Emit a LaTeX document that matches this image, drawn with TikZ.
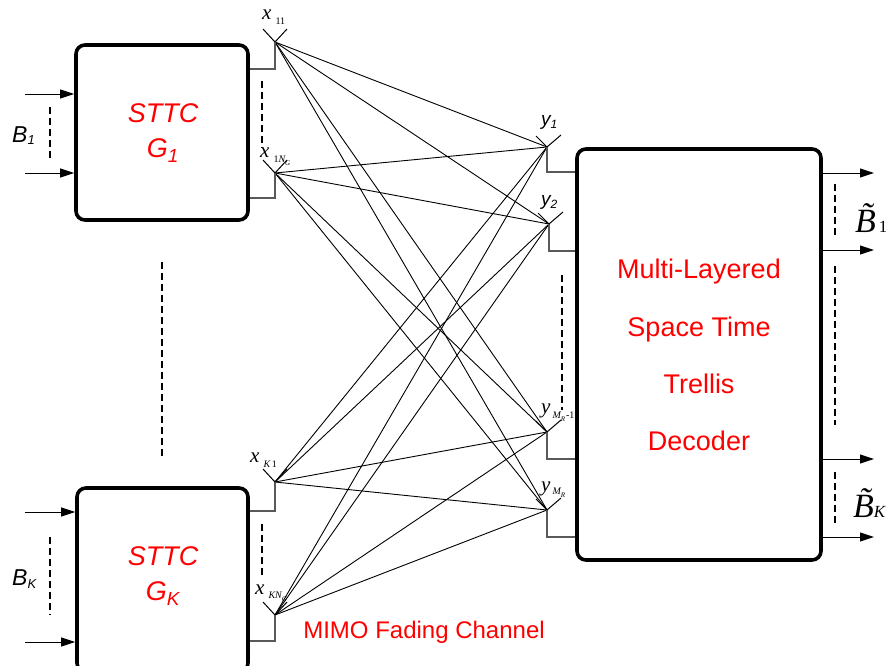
\documentclass[tikz,border=0pt]{standalone}
\usepackage{fontspec}
\setmainfont{Liberation Serif}
\setsansfont{Liberation Sans}
\usetikzlibrary{arrows.meta}
\begin{document}
\begin{tikzpicture}[x=1pt,y=-1pt,
  blk/.style={draw, line width=3.6pt, rounded corners=9pt, inner sep=0pt},
  feed/.style={draw=black!65, line width=1.3pt},
  chan/.style={line width=0.9pt},
  arm/.style={line width=1pt},
  dsh/.style={line width=2pt, dash pattern=on 7pt off 4pt},
  inarr/.style={line width=1pt, -{Triangle[length=14pt,width=9pt]}},
  redt/.style={text=red, align=center, inner sep=0pt},
  lbl/.style={anchor=base west, inner sep=0pt},
  xlab/.style={lbl, font=\rmfamily\itshape\fontsize{21}{21}\selectfont},
  ylab/.style={lbl, font=\sffamily\itshape\fontsize{19}{19}\selectfont},
  blab/.style={lbl, font=\sffamily\itshape\fontsize{23}{23}\selectfont},
  btlab/.style={lbl, font=\rmfamily\itshape\fontsize{34}{34}\selectfont},
]
\useasboundingbox (0,0) rectangle (886,665);
\begin{scope}
\clip (0,0) rectangle (886,665);

% antenna vertices
\coordinate (t1) at (275,42);
\coordinate (t2) at (275,173);
\coordinate (t3) at (275,482);
\coordinate (t4) at (275,615);
\coordinate (r1) at (547,147);
\coordinate (r2) at (549,224);
\coordinate (r3) at (547,432);
\coordinate (r4) at (547,510);

% channel links
\foreach \t in {t1,t2,t3,t4}
  \foreach \r in {r1,r2,r3,r4}
    \draw[chan] (\t) -- (\r);

% boxes
\node[blk, minimum width=172, minimum height=175] (enc1) at (162,132.5) {};
\node[blk, minimum width=171, minimum height=184] (enc2) at (162.5,580) {};
\node[blk, minimum width=244, minimum height=411] (dec) at (699,354.5) {};

% box texts
\node[redt, font=\sffamily\itshape\fontsize{27}{35}\selectfont] (enc1t) at (163,133) {STTC\\G\textsubscript{1}};
\node[redt, font=\sffamily\itshape\fontsize{27}{35}\selectfont] (enc2t) at (163,576) {STTC\\G\textsubscript{K}};
\node[redt, font=\sffamily\fontsize{27}{57.3}\selectfont] (dect) at (699,355) {Multi-Layered\\Space Time\\Trellis\\Decoder};
\node[redt, font=\sffamily\fontsize{24}{24}\selectfont] (mimo) at (424,632) {MIMO Fading Channel};

% feed coordinates on box edges
\coordinate (f1) at (250,69);
\coordinate (f2) at (250,198);
\coordinate (f3) at (250,511);
\coordinate (f4) at (250,641);
\coordinate (g1) at (575,172);
\coordinate (g2) at (575,251);
\coordinate (g3) at (575,459);
\coordinate (g4) at (575,537);
\foreach \a/\b in {t1/f1,t2/f2,t3/f3,t4/f4,r1/g1,r2/g2,r3/g3,r4/g4}
  \draw[feed] (\a) |- (\b);

% antenna arms
\foreach \a in {t1,t2,t3,t4}
  \draw[arm] (\a) -- ++(-12,-13) (\a) -- ++(12,-13);
\foreach \a in {r1,r2,r3,r4}
  \draw[arm] (\a) -- ++(-11,-11) (\a) -- ++(14,-12);

% input / output arrows
\coordinate (i1) at (25,94);
\coordinate (i2) at (25,173);
\coordinate (i3) at (25,512);
\coordinate (i4) at (25,642);
\foreach \c/\n in {i1/enc1,i2/enc1,i3/enc2,i4/enc2}
  \draw[inarr] (\c) -- (\n.west |- \c);
\coordinate (o1) at (874,173);
\coordinate (o2) at (874,250);
\coordinate (o3) at (874,459);
\coordinate (o4) at (874,537);
\foreach \c in {o1,o2,o3,o4}
  \draw[inarr] (dec.east |- \c) -- (\c);

% dashed ellipsis lines
\draw[dsh] (50,107) -- (50,160);
\draw[dsh] (50,537) -- (50,615);
\draw[dsh] (262,81) -- (262,148);
\draw[dsh] (262,524) -- (262,577);
\draw[dsh] (162,262) -- (162,458);
\draw[dsh] (562,275) -- (562,410);
\draw[dsh] (835,184) -- (835,238);
\draw[dsh] (835,266) -- (835,425);
\draw[dsh] (835,472) -- (835,523);

% labels
\node[xlab] (lx11) at (262,19) {x\hspace{4pt}\raisebox{-5pt}{\upshape\fontsize{10}{10}\selectfont 11}};
\node[xlab] (lx1n) at (260,157) {x\hspace{4pt}\raisebox{-5pt}{\fontsize{10}{10}\selectfont\upshape 1\itshape N\raisebox{-3pt}{\fontsize{7}{7}\selectfont G}}};
\node[xlab] (lxk1) at (250,462) {x\hspace{4pt}\raisebox{-5pt}{\fontsize{10}{10}\selectfont K\,\upshape 1}};
\node[xlab] (lxkn) at (255,594) {x\hspace{4pt}\raisebox{-4pt}{\fontsize{10}{10}\selectfont KN\raisebox{-3pt}{\fontsize{7}{7}\selectfont G}}};

\node[ylab] (ly1) at (541,125) {y\raisebox{-3pt}{\fontsize{12}{12}\selectfont 1}};
\node[ylab] (ly2) at (541,205) {y\raisebox{-3pt}{\fontsize{12}{12}\selectfont 2}};
\node[xlab] (lym1) at (541,413) {y\hspace{2pt}\raisebox{-5pt}{\fontsize{10}{10}\selectfont M\raisebox{-3pt}{\fontsize{7}{7}\selectfont R}\upshape\hspace{1pt}-1}};
\node[xlab] (lym) at (541,491) {y\hspace{2pt}\raisebox{-3pt}{\fontsize{10}{10}\selectfont M\raisebox{-3pt}{\fontsize{7}{7}\selectfont R}}};

\node[blab] (lb1) at (12,142) {B\raisebox{-2pt}{\fontsize{13}{13}\selectfont 1}};
\node[blab] (lbk) at (12,585) {B\raisebox{-3pt}{\fontsize{13}{13}\selectfont K}};

\node[btlab] (lbt1) at (855,232) {\~{B}\hspace{3pt}{\upshape\fontsize{17}{17}\selectfont 1}};
\node[btlab] (lbtk) at (853,517) {\~{B}{\fontsize{17}{17}\selectfont K}};
\end{scope}
\end{tikzpicture}
\end{document}
